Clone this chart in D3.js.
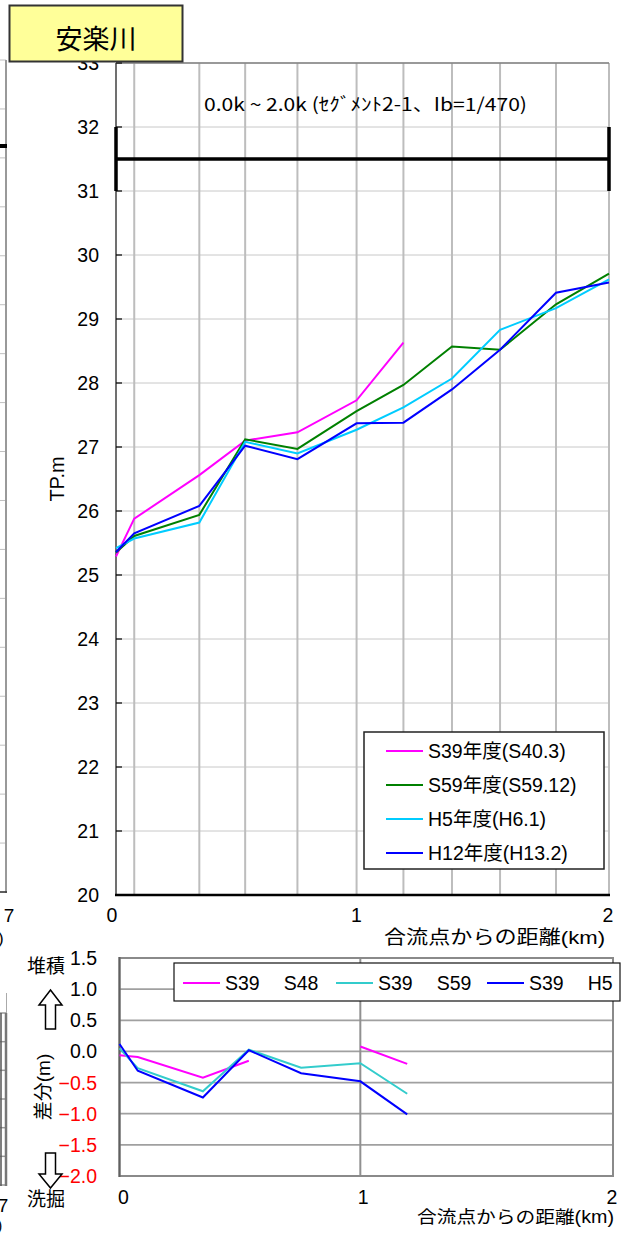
<!DOCTYPE html>
<html><head><meta charset="utf-8">
<script src="https://cdn.jsdelivr.net/npm/d3@7"></script>
<style>
body{margin:0;background:#fff;}
svg{display:block;font-family:"Liberation Sans",Arial,"Noto Sans CJK JP",sans-serif;}
</style></head>
<body><svg id="c" width="635" height="1242"></svg>
<script>
// ---- data ----
const stations = [0, 0.074, 0.338, 0.524, 0.736, 0.976, 1.166, 1.363, 1.558, 1.785, 2.0];
const s39 = [25.29, 25.88, 26.56, 27.10, 27.23, 27.73, 28.63, null, null, null, null];
const s59 = [25.35, 25.61, 25.94, 27.12, 26.97, 27.56, 27.97, 28.57, 28.52, 29.23, 29.71];
const h5  = [25.42, 25.57, 25.82, 27.08, 26.90, 27.27, 27.62, 28.07, 28.83, 29.17, 29.62];
const h12 = [25.36, 25.65, 26.08, 27.02, 26.81, 27.37, 27.38, 27.90, 28.52, 29.41, 29.57];
const seriesNames = ["S39年度(S40.3)", "S59年度(S59.12)", "H5年度(H6.1)", "H12年度(H13.2)"];
const seriesColors = ["#ff00ff", "#008000", "#00ccff", "#0000ff"];
const hwlX = [0, 0, 0, 2, 2, 2];
const hwlY = [32, 31, 31.5, 31.5, 32, 31];
const yTicks = [20,21,22,23,24,25,26,27,28,29,30,31,32,33];
const xTicks = [0, 1, 2];

const diffStations = [0, 0.074, 0.338, 0.524, 0.736, 0.976, 1.166];
const dS48 = [-0.06, -0.09, -0.42, -0.15, null, 0.08, -0.20];
const dS59 = [0.05, -0.27, -0.64, 0.03, -0.26, -0.19, -0.68];
const dH5  = [0.12, -0.31, -0.74, 0.02, -0.35, -0.48, -1.01];
const diffNames = [["S39","S48"], ["S39","S59"], ["S39","H5"]];
const diffColors = ["#ff00ff", "#33cccc", "#0000ff"];
const dTicks = [1.5, 1.0, 0.5, 0.0, -0.5, -1.0, -1.5, -2.0];

const svg = d3.select("#c");

// ---- left partial neighbour chart (cropped) ----
const ly = d3.scaleLinear().domain([0, 17]).range([892, 60]);
const lg = svg.append("g");
lg.selectAll("line.lt").data(d3.range(0, 18)).join("line")
  .attr("x1", 0).attr("x2", 6).attr("y1", d => ly(d)).attr("y2", d => ly(d))
  .attr("stroke", "#c0c0c0").attr("stroke-width", 1);
lg.append("line").attr("x1", 6).attr("x2", 6).attr("y1", 60).attr("y2", 893).attr("stroke", "#999").attr("stroke-width", 2);
lg.append("line").attr("x1", 0).attr("x2", 7).attr("y1", 146).attr("y2", 146).attr("stroke", "#000").attr("stroke-width", 4);
lg.append("line").attr("x1", 0).attr("x2", 7).attr("y1", 892).attr("y2", 892).attr("stroke", "#333").attr("stroke-width", 1.5);
lg.append("text").attr("x", 9).attr("y", 922).attr("font-size", 19).attr("text-anchor", "middle").text("7");
lg.append("text").attr("x", -2).attr("y", 944).attr("font-size", 17).text(")");
// bottom partial
const lby = d3.scaleLinear().domain([0, 6]).range([1185, 1013]);
lg.selectAll("line.lb").data(d3.range(0, 7)).join("line")
  .attr("x1", 0).attr("x2", 6).attr("y1", d => lby(d)).attr("y2", d => lby(d))
  .attr("stroke", "#999").attr("stroke-width", 1.5);
lg.append("line").attr("x1", 6.5).attr("x2", 6.5).attr("y1", 993).attr("y2", 1013).attr("stroke", "#aaa").attr("stroke-width", 1);
lg.append("line").attr("x1", 6).attr("x2", 6).attr("y1", 1013).attr("y2", 1186).attr("stroke", "#777").attr("stroke-width", 2.5);
lg.append("line").attr("x1", 1).attr("x2", 1).attr("y1", 1013).attr("y2", 1186).attr("stroke", "#555").attr("stroke-width", 1.5);
lg.append("text").attr("x", 3).attr("y", 1212).attr("font-size", 19).attr("text-anchor", "middle").text("7");
lg.append("text").attr("x", -3).attr("y", 1231).attr("font-size", 16).text(")");

// ---- main chart ----
const x = d3.scaleLinear().domain([0, 2]).range([116, 609]);
const y = d3.scaleLinear().domain([20, 33]).range([895, 63]);
const g = svg.append("g");

// horizontal gridlines
g.selectAll("line.hg").data(yTicks).join("line")
  .attr("x1", x(0)).attr("x2", x(2)).attr("y1", d => y(d)).attr("y2", d => y(d))
  .attr("stroke", "#c8c8c8").attr("stroke-width", 1);
// vertical gridlines at stations
g.selectAll("line.vg").data(stations.slice(1)).join("line")
  .attr("x1", d => x(d)).attr("x2", d => x(d)).attr("y1", y(33)).attr("y2", y(20))
  .attr("stroke", "#bdbdbd").attr("stroke-width", 2);
// top border
g.append("line").attr("x1", x(0)).attr("x2", x(2)).attr("y1", y(33)).attr("y2", y(33)).attr("stroke", "#808080").attr("stroke-width", 1.5);
// left axis line
g.append("line").attr("x1", x(0)).attr("x2", x(0)).attr("y1", y(33)).attr("y2", y(20)).attr("stroke", "#707070").attr("stroke-width", 2);
// y ticks (inside)
g.selectAll("line.yt").data(yTicks).join("line")
  .attr("x1", x(0)).attr("x2", x(0) + 6).attr("y1", d => y(d)).attr("y2", d => y(d))
  .attr("stroke", "#000").attr("stroke-width", 1.2);
// bottom axis line
g.append("line").attr("x1", x(0) - 1).attr("x2", x(2) + 1).attr("y1", y(20)).attr("y2", y(20)).attr("stroke", "#000").attr("stroke-width", 2.5);

// y tick labels
g.selectAll("text.yl").data(yTicks).join("text")
  .attr("x", 99).attr("y", d => y(d)).attr("dy", "0.36em")
  .attr("text-anchor", "end").attr("font-size", 19.5).text(d => d);
// x tick labels
g.selectAll("text.xl").data(xTicks).join("text")
  .attr("x", d => x(d) - (d === 0 ? 4 : d === 1 ? 6 : 1)).attr("y", 922)
  .attr("text-anchor", "middle").attr("font-size", 19.5).text(d => d);
// axis titles
g.append("text").attr("transform", "translate(64,479) rotate(-90)")
  .attr("text-anchor", "middle").attr("font-size", 20).text("TP.m");
g.append("text").attr("x", 384).attr("y", 944).attr("font-size", 19)
  .attr("textLength", 221).attr("lengthAdjust", "spacingAndGlyphs").text("合流点からの距離(km)");

// chart caption
g.append("text").attr("x", 204).attr("y", 111).attr("font-size", 18)
  .attr("textLength", 323).attr("lengthAdjust", "spacingAndGlyphs")
  .attr("font-family", "'Noto Sans CJK JP',sans-serif")
  .text("0.0k ~ 2.0k (ｾｸﾞﾒﾝﾄ2-1、Ib=1/470)");

// HWL marker
const hwlLine = d3.line().x(d => x(d[0])).y(d => y(d[1]));
g.append("path").datum(hwlX.map((v, i) => [v, hwlY[i]]))
  .attr("d", hwlLine).attr("fill", "none").attr("stroke", "#000").attr("stroke-width", 3.5);

// series lines
const line = d3.line().defined(d => d[1] != null).x(d => x(d[0])).y(d => y(d[1]));
[s39, s59, h5, h12].forEach((arr, i) => {
  g.append("path").datum(stations.map((s, j) => [s, arr[j]]))
    .attr("d", line).attr("fill", "none").attr("stroke", seriesColors[i]).attr("stroke-width", 2);
});

// legend
const leg = g.append("g");
leg.append("rect").attr("x", 364).attr("y", 732).attr("width", 240).attr("height", 137)
  .attr("fill", "#fff").attr("stroke", "#222").attr("stroke-width", 1.5);
seriesNames.forEach((n, i) => {
  const ly2 = 751 + i * 34;
  leg.append("line").attr("x1", 386).attr("x2", 423).attr("y1", ly2).attr("y2", ly2)
    .attr("stroke", seriesColors[i]).attr("stroke-width", 2);
  leg.append("text").attr("x", 428).attr("y", ly2).attr("dy", "0.36em").attr("font-size", 19.5).text(n);
});

// ---- difference chart ----
const bx = d3.scaleLinear().domain([0, 2]).range([119.5, 613]);
const by = d3.scaleLinear().domain([-2, 1.5]).range([1176, 958]);
const b = svg.append("g");
b.selectAll("line.bg").data(dTicks).join("line")
  .attr("x1", bx(0)).attr("x2", bx(2)).attr("y1", d => by(d)).attr("y2", d => by(d))
  .attr("stroke", "#a0a0a0").attr("stroke-width", 1.8);
b.append("line").attr("x1", bx(diffStations[5])).attr("x2", bx(diffStations[5]))
  .attr("y1", by(1.5)).attr("y2", by(-2)).attr("stroke", "#909090").attr("stroke-width", 2);
b.append("rect").attr("x", bx(0)).attr("y", by(1.5)).attr("width", bx(2) - bx(0)).attr("height", by(-2) - by(1.5))
  .attr("fill", "none").attr("stroke", "#8a8a8a").attr("stroke-width", 2);
b.append("line").attr("x1", bx(0)).attr("x2", bx(0)).attr("y1", by(1.5) - 1).attr("y2", by(-2) + 1).attr("stroke", "#606060").attr("stroke-width", 2);

b.selectAll("text.dl").data(dTicks).join("text")
  .attr("x", 97).attr("y", d => by(d)).attr("dy", "0.36em").attr("text-anchor", "end")
  .attr("font-size", 19.5).attr("fill", d => d < 0 ? "#ff0000" : "#000").text(d => d3.format(".1f")(d));
b.selectAll("text.bxl").data(xTicks).join("text")
  .attr("x", d => bx(d) + (d === 0 ? 4 : d === 1 ? -3 : -1)).attr("y", 1204)
  .attr("text-anchor", "middle").attr("font-size", 19.5).text(d => d);
b.append("text").attr("x", 417).attr("y", 1223).attr("font-size", 17.5)
  .attr("textLength", 197).attr("lengthAdjust", "spacingAndGlyphs").text("合流点からの距離(km)");

b.append("text").attr("x", 27).attr("y", 973).attr("font-size", 19).text("堆積");
b.append("text").attr("x", 27).attr("y", 1206).attr("font-size", 19).text("洗掘");
b.append("text").attr("transform", "translate(50,1087) rotate(-90)").attr("text-anchor", "middle")
  .attr("font-size", 19).text("差分(m)");
// arrows
b.append("path").attr("d", "M50.5,990 L62,1005 L55.5,1005 L55.5,1029 L45.5,1029 L45.5,1005 L39,1005 Z")
  .attr("fill", "#fff").attr("stroke", "#000").attr("stroke-width", 1.5);
b.append("path").attr("d", "M45.5,1153 L55.5,1153 L55.5,1174 L62,1174 L50.5,1188 L39,1174 L45.5,1174 Z")
  .attr("fill", "#fff").attr("stroke", "#000").attr("stroke-width", 1.5);

const dline = d3.line().defined(d => d[1] != null).x(d => bx(d[0])).y(d => by(d[1]));
[dS48, dS59, dH5].forEach((arr, i) => {
  b.append("path").datum(diffStations.map((s, j) => [s, arr[j]]))
    .attr("d", dline).attr("fill", "none").attr("stroke", diffColors[i]).attr("stroke-width", 2);
});

// diff legend
const dl = b.append("g");
dl.append("rect").attr("x", 174).attr("y", 963).attr("width", 446).attr("height", 38)
  .attr("fill", "#fff").attr("stroke", "#111").attr("stroke-width", 1.2);
const dlx = [183, 336, 487];
diffNames.forEach((n, i) => {
  dl.append("line").attr("x1", dlx[i]).attr("x2", dlx[i] + 37).attr("y1", 983).attr("y2", 983)
    .attr("stroke", diffColors[i]).attr("stroke-width", 2);
  const t = dl.append("text").attr("x", dlx[i] + 42).attr("y", 983).attr("dy", "0.36em").attr("font-size", 19.5);
  t.append("tspan").text(n[0]);
  t.append("tspan").attr("dx", 24).text(n[1]);
});

// ---- title box ----
svg.append("rect").attr("x", 9.5).attr("y", 5.5).attr("width", 173).attr("height", 56)
  .attr("fill", "#ffff99").attr("stroke", "#333").attr("stroke-width", 2);
svg.append("text").attr("x", 96).attr("y", 49).attr("text-anchor", "middle")
  .attr("font-size", 27).attr("font-family", "'Noto Sans CJK JP',sans-serif").text("安楽川");
</script></body></html>
